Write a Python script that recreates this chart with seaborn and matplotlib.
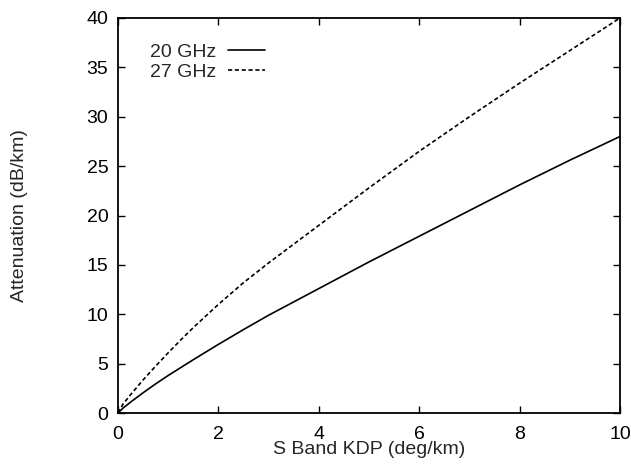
import matplotlib
matplotlib.use("Agg")
import matplotlib.pyplot as plt
import seaborn as sns
import pandas as pd

kdp = [0, 0.1, 0.25, 0.5, 0.75, 1, 1.25, 1.5, 2, 2.5, 3, 3.5, 4, 5, 6, 7, 8, 9, 10]
att_20ghz = [0, 0.5, 1.1, 2.05, 2.95, 3.8, 4.6, 5.4, 6.95, 8.45, 9.9, 11.25, 12.6,
             15.3, 17.9, 20.5, 23.1, 25.6, 28.0]
att_27ghz = [0, 0.9, 1.85, 3.35, 4.75, 6.1, 7.4, 8.65, 11.0, 13.2, 15.2, 17.1, 19.0,
             22.8, 26.5, 30.0, 33.4, 36.7, 40.0]
series_names = ["20 GHz", "27 GHz"]

df = pd.concat([
    pd.DataFrame({"kdp": kdp, "att": att_20ghz, "series": series_names[0]}),
    pd.DataFrame({"kdp": kdp, "att": att_27ghz, "series": series_names[1]}),
])

sns.set_style("ticks")
plt.rcParams["font.family"] = ["Liberation Sans", "DejaVu Sans"]

fig = plt.figure(figsize=(6.31, 4.66), dpi=100)
ax = fig.add_axes([0.187, 0.1137, 0.7956, 0.8477])

sns.lineplot(data=df, x="kdp", y="att", hue="series", style="series",
             palette={"20 GHz": "black", "27 GHz": "black"},
             dashes={"20 GHz": "", "27 GHz": (2.5, 1.6)},
             linewidth=1.2, ax=ax, legend=True)

ax.set_xlim(0, 10)
ax.set_ylim(0, 40)
ax.set_xticks([0, 2, 4, 6, 8, 10])
ax.set_yticks([0, 5, 10, 15, 20, 25, 30, 35, 40])
ax.tick_params(direction="in", top=True, right=True, length=5, width=1,
               labelsize=14, pad=7, colors="black")
ax.tick_params(axis="x", pad=9)
for s in ax.spines.values():
    s.set_visible(True)
    s.set_linewidth(1.3)
    s.set_color("black")

ax.set_xlabel("S Band KDP (deg/km)", fontsize=14, labelpad=-1)
ax.set_ylabel("Attenuation (dB/km)", fontsize=14, labelpad=42)

leg = ax.legend(loc="upper left", frameon=False, markerfirst=False,
                fontsize=14, handlelength=1.9, handletextpad=0.6,
                labelspacing=0.12, borderaxespad=0,
                bbox_to_anchor=(0.048, 0.955), title=None)

fig.savefig("out.png", dpi=100)
